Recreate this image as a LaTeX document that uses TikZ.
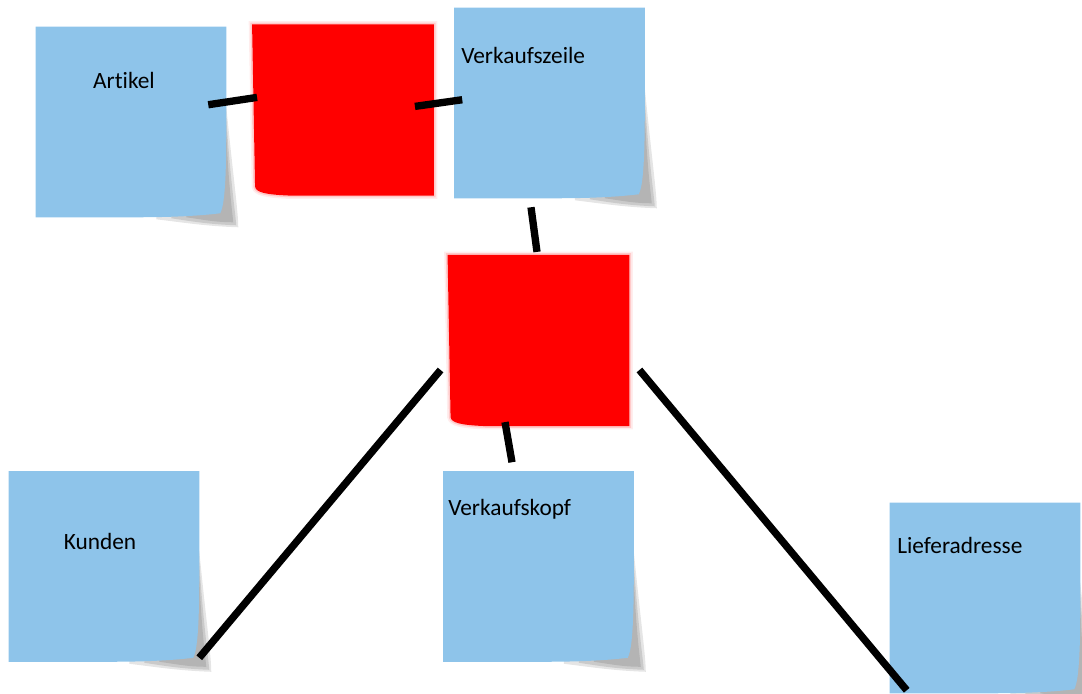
\documentclass[tikz,border=0pt]{standalone}
\usepackage{fontspec}
\setmainfont{Carlito}[Ligatures=NoCommon]
\usepackage{tikz}
\usetikzlibrary{calc, backgrounds}
\definecolor{noteblue}{RGB}{142,196,234}
\definecolor{shadowgray}{RGB}{180,180,180}

\tikzset{
  note/.style={minimum width=142.5pt, minimum height=142.5pt, inner sep=0pt},
  relbox/.style={minimum width=136pt, minimum height=128pt, inner sep=0pt},
  notetext/.style={inner sep=0pt, font=\fontsize{17.5}{21}\selectfont},
  link/.style={line width=5.5pt, black}
}

\begin{document}
\begin{tikzpicture}[x=0.75pt, y=-0.75pt]
    \useasboundingbox (0,0) rectangle (1082,693);

    % sticky notes
    \node[note] (artikel) at (131,122) {};
    \node[note] (vkzeile) at (549.5,103) {};
    \node[note] (kunden) at (104,566.5) {};
    \node[note] (vkkopf) at (538.5,566.5) {};
    \node[note] (lieferadr) at (985,598) {};
    % red relations
    \node[relbox] (rel1) at (343,110) {};
    \node[relbox] (rel2) at (538.5,340.5) {};

    \begin{scope}[on background layer]
        \foreach \n in {artikel, vkzeile, kunden, vkkopf, lieferadr} {
            \fill[shadowgray!35] ($(\n.north east)!0.42!(\n.south east)$)
                .. controls ([shift={(7,-40)}]\n.south east) and ([shift={(12,-5)}]\n.south east) .. ([shift={(12,10)}]\n.south east)
                .. controls ([shift={(-20,9)}]\n.south east) and ([shift={(-45,5)}]\n.south east) .. ([shift={(-70,2)}]\n.south east)
                -- ([shift={(-70,0)}]\n.south east) -- cycle;
            \fill[shadowgray!70] ($(\n.north east)!0.48!(\n.south east)$)
                .. controls ([shift={(4,-38)}]\n.south east) and ([shift={(9,-5)}]\n.south east) .. ([shift={(10,8)}]\n.south east)
                .. controls ([shift={(-18,7)}]\n.south east) and ([shift={(-35,4)}]\n.south east) .. ([shift={(-55,1)}]\n.south east)
                -- ([shift={(-55,-2)}]\n.south east) -- cycle;
            \fill[shadowgray] ($(\n.north east)!0.55!(\n.south east)$)
                .. controls ([shift={(2,-35)}]\n.south east) and ([shift={(6,-5)}]\n.south east) .. ([shift={(7,5)}]\n.south east)
                .. controls ([shift={(-12,5)}]\n.south east) and ([shift={(-25,2)}]\n.south east) .. ([shift={(-40,0)}]\n.south east)
                -- ([shift={(-40,-3)}]\n.south east) -- cycle;
            \fill[noteblue] (\n.north west) -- (\n.north east) -- ($(\n.north east)!0.55!(\n.south east)$)
                .. controls ([shift={(0,-25)}]\n.south east) and ([shift={(-3,-10)}]\n.south east) .. ([shift={(-6,-4)}]\n.south east)
                .. controls ([shift={(-30,-1)}]\n.south east) and ([shift={(-60,0)}]\n.south east) .. ([shift={(-90,0)}]\n.south east)
                -- (\n.south west) -- cycle;
        }
        \foreach \r in {rel1, rel2} {
            \fill[red, preaction={draw=red, line width=5pt, opacity=0.07},
                  preaction={draw=red, line width=2.5pt, opacity=0.15}]
                (\r.north west) -- (\r.north east) -- (\r.south east) -- ([shift={(38,0)}]\r.south west)
                .. controls ([shift={(14,-1)}]\r.south west) and ([shift={(4,-3)}]\r.south west) .. ([shift={(3,-9)}]\r.south west)
                -- cycle;
        }
    \end{scope}

    % labels
    \node[notetext, anchor=base] (artikeltxt) at (124,88) {Artikel};
    \node[notetext, anchor=base west] (vkzeiletxt) at (461,63) {Verkaufszeile};
    \node[notetext, anchor=base] (kundentxt) at (100,549) {Kunden};
    \node[notetext, anchor=base west] (vkkopftxt) at (448,515) {Verkaufskopf};
    \node[notetext, anchor=base west] (lieferadrtxt) at (897,553) {Lieferadresse};

    % connectors
    \draw[link] ([shift={(-18,78)}]artikel.north east) -- ([shift={(5,73)}]rel1.north west);
    \draw[link] ([shift={(-19,82)}]rel1.north east) -- ([shift={(8,92)}]vkzeile.north west);
    \draw[link] ([shift={(-18.5,9)}]vkzeile.south) -- ([shift={(-1.5,-3)}]rel2.north);
    \draw[link] ([shift={(-33.5,-4)}]rel2.south) -- ([shift={(-26.5,-9)}]vkkopf.north);
    \draw[link] ([shift={(-7,29.5)}]rel2.west) -- ([shift={(0,-4)}]kunden.south east);
    \draw[link] ([shift={(10,29.5)}]rel2.east) -- ([shift={(17,-3)}]lieferadr.south west);
\end{tikzpicture}
\end{document}
